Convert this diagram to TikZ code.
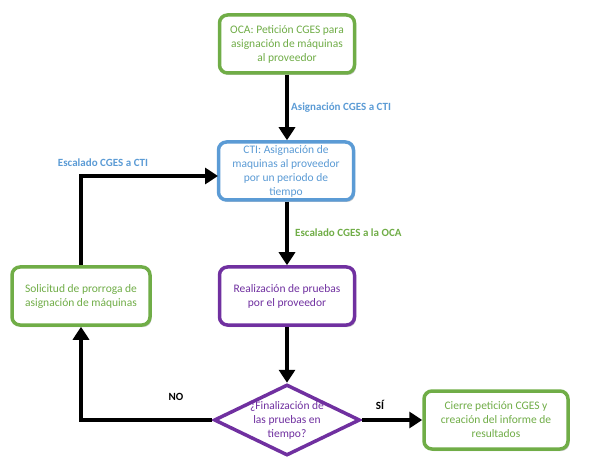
\documentclass[tikz,border=0pt]{standalone}
\usepackage{fontspec}
\setmainfont{Carlito}
\usetikzlibrary{arrows.meta,shapes.geometric,shadows}
\definecolor{cgreen}{RGB}{112,173,71}
\definecolor{cblue}{RGB}{91,155,213}
\definecolor{cpurple}{RGB}{112,48,160}
\tikzset{
  box/.style={draw, line width=3.5pt, rounded corners=8pt, fill=white, align=center,
    minimum width=135pt, minimum height=58pt, inner sep=2pt, font=\fontsize{11.5}{14}\selectfont,
    drop shadow={shadow xshift=1.5pt, shadow yshift=-2pt, fill=black, opacity=0.2}},
  gbox/.style={box, draw=cgreen, text=cgreen},
  bbox/.style={box, draw=cblue, text=cblue},
  pbox/.style={box, draw=cpurple, text=cpurple},
  flow/.style={line width=4pt, -{Triangle[length=13pt,width=16pt]}},
  lbl/.style={font=\fontsize{11}{13}\bfseries\selectfont, inner sep=0pt},
}
\begin{document}
\begin{tikzpicture}[x=1pt,y=-1pt]
\useasboundingbox (0,0) rectangle (592,473);
\node[gbox] (oca) at (287,44) {OCA: Petición CGES para\\asignación de máquinas\\al proveedor};
\node[bbox] (cti) at (286,171) {CTI: Asignación de\\maquinas al proveedor\\por un periodo de\\tiempo};
\node[pbox] (real) at (287,296) {Realización de pruebas\\por el proveedor};
\node[gbox, minimum width=138pt] (sol) at (81,296) {Solicitud de prorroga de\\asignación de máquinas};
\node[gbox, minimum width=144pt] (cie) at (496,420) {Cierre petición CGES y\\creación del informe de\\resultados};
\node[diamond, draw=cpurple, line width=3.5pt, fill=white, minimum width=146pt, minimum height=71pt, inner sep=0pt] (dec) at (287,420) {};
\node[align=center, text=cpurple, font=\fontsize{11.5}{14}\selectfont] (dect) at (dec.center) {¿Finalización de\\las pruebas en\\tiempo?};
\coordinate (ctiin) at (218,176);
\draw[flow] (oca.south) -- (cti.north -| oca.south);
\draw[flow] (cti.south -| real.north) -- (real.north);
\draw[flow] (real.south) -- (dec.north);
\draw[flow] (dec.west) -| (sol.south);
\draw[flow] (sol.north) |- (ctiin);
\draw[flow] (dec.east) -- (cie.west);
\node[lbl, text=cblue, anchor=west] (l1) at (291,108) {Asignación CGES a CTI};
\node[lbl, text=cgreen, anchor=west] (l2) at (295,233) {Escalado CGES a la OCA};
\node[lbl, text=cblue] (l3) at (103,163) {Escalado CGES a CTI};
\node[lbl] (l4) at (176,397) {NO};
\node[lbl] (l5) at (380,405) {SÍ};
\end{tikzpicture}
\end{document}
